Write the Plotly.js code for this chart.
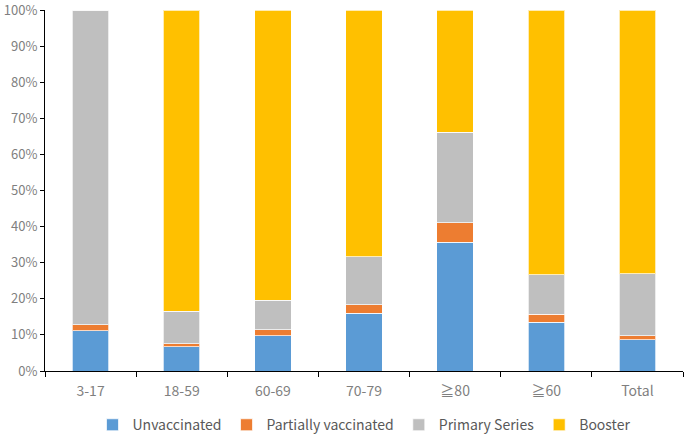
<!DOCTYPE html>
<html><head><meta charset="utf-8">
<script src="https://cdn.plot.ly/plotly-3.0.1.min.js"></script>
<style>html,body{margin:0;padding:0;background:#fff}#chart{width:685px;height:435px}</style>
</head><body><div id="chart"></div>
<script>
const categories = ["3-17", "18-59", "60-69", "70-79", "≧80", "≧60", "Total"];
const unvaccinated = [11.2, 6.7, 9.7, 16.0, 35.6, 13.5, 8.6];
const partially = [1.6, 0.9, 1.7, 2.3, 5.5, 2.2, 1.2];
const primarySeries = [87.2, 8.9, 8.2, 13.4, 25.1, 10.9, 17.1];
const booster = [0, 83.5, 80.4, 68.3, 33.8, 73.4, 73.1];
const yTicks = [0, 10, 20, 30, 40, 50, 60, 70, 80, 90, 100];

const font = "'Noto Sans CJK SC', 'Noto Sans', sans-serif";
function tr(name, vals, color) {
  return {type: 'bar', name: name, x: categories, y: vals,
    marker: {color: color, line: {color: 'rgba(255,255,255,0.7)', width: 1}},
    hoverinfo: 'skip'};
}
const data = [
  tr('Unvaccinated', unvaccinated, '#5B9BD5'),
  tr('Partially vaccinated', partially, '#ED7D31'),
  tr('Primary Series', primarySeries, '#BFBFBF'),
  tr('Booster', booster, '#FFC000')
];
const layout = {
  width: 685, height: 435,
  margin: {l: 45, r: 2, t: 10, b: 64, autoexpand: false},
  barmode: 'stack', bargap: 0.6,
  paper_bgcolor: '#fff', plot_bgcolor: '#fff',
  font: {family: font, color: '#7f7f7f', size: 13},
  showlegend: true,
  legend: {orientation: 'h', x: 0.5, xanchor: 'center', y: -0.15, yanchor: 'middle',
    font: {family: font, size: 14, color: '#595959'}, traceorder: 'normal', itemwidth: 30},
  xaxis: {type: 'category', tickson: 'boundaries', ticks: 'outside', ticklen: 5, tickcolor: '#000',
    showline: true, linecolor: '#000', linewidth: 1, showgrid: false, zeroline: false,
    ticklabelstandoff: 7, automargin: false,
    tickfont: {family: font, size: 14, color: '#7f7f7f'}},
  yaxis: {range: [0, 100], tickvals: yTicks, ticktext: yTicks.map(v => v + '%'), automargin: false,
    ticklabeloverflow: 'allow',
    ticks: 'outside', ticklen: 4, tickcolor: '#000', showline: true, linecolor: '#000', linewidth: 1,
    showgrid: false, zeroline: false, tickfont: {family: font, size: 13, color: '#7f7f7f'}}
};
Plotly.newPlot('chart', data, layout, {displayModeBar: false, staticPlot: true});
</script></body></html>
